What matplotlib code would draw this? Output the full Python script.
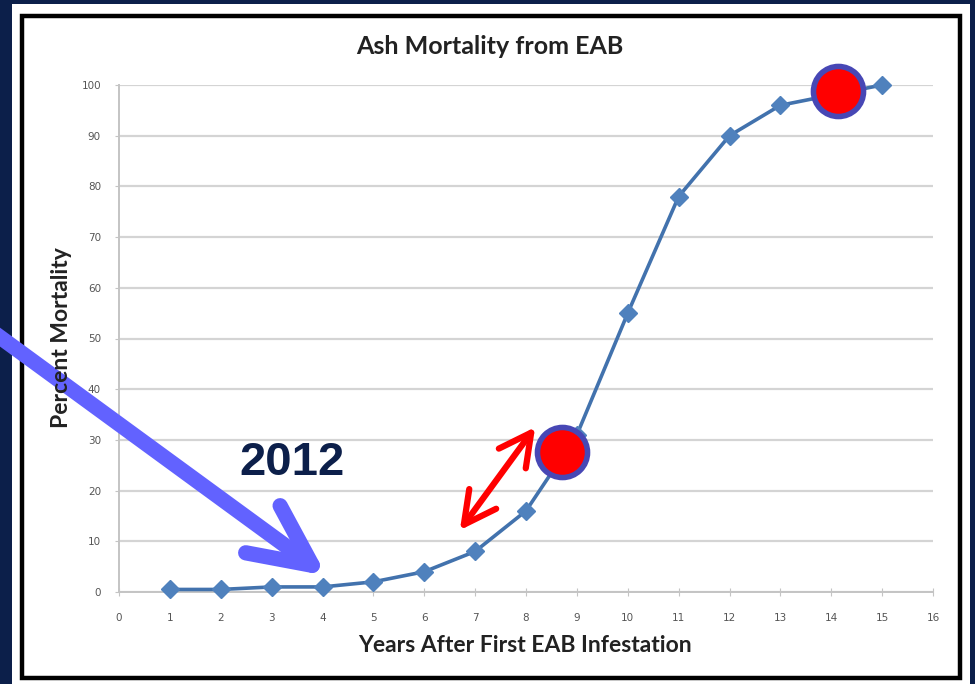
import numpy as np
import matplotlib.pyplot as plt
from matplotlib.patches import Rectangle

# data
years = [1, 2, 3, 4, 5, 6, 7, 8, 9, 10, 11, 12, 13, 14, 15]
mortality = [0.5, 0.5, 1, 1, 2, 4, 8, 16, 31, 55, 78, 90, 96, 98, 100]
x_ticks = list(range(0, 17))
y_ticks = list(range(0, 101, 10))

# highlighted points (red circles)
hl_x = [8.71, 14.13]
hl_y = [27.6, 98.8]

navy = '#0c1f4a'
W, H = 975, 684

fig = plt.figure(figsize=(9.75, 6.84), dpi=100)
fig.patch.set_facecolor(navy)

# white slide panel with black frame
fig.patches.append(Rectangle((12 / W, 0), 958 / W, 680 / H, transform=fig.transFigure,
                             facecolor='white', edgecolor='none', zorder=0))
fig.patches.append(Rectangle((22 / W, 1 - 678 / H), 938 / W, 662 / H, transform=fig.transFigure,
                             facecolor='none', edgecolor='black', lw=3.2, zorder=1))

ax = fig.add_axes([119 / W, 1 - 592 / H, 814 / W, 507 / H])
ax.set_facecolor('none')
ax.set_zorder(2)

ax.plot(years, mortality, color='#4272ad', lw=2.6, marker='D', markersize=9,
        markerfacecolor='#4f81bd', markeredgecolor='#4f81bd', zorder=3, clip_on=False)

ax.set_xlim(0, 16)
ax.set_ylim(0, 100)
ax.set_xticks(x_ticks)
ax.set_yticks(y_ticks)
ax.yaxis.grid(True, color='#d4d4d4', lw=1.6)
ax.set_axisbelow(True)
for s in ['top', 'right']:
    ax.spines[s].set_visible(False)
for s in ['left', 'bottom']:
    ax.spines[s].set_color('#c4c4c4')
    ax.spines[s].set_linewidth(1.4)
ax.tick_params(axis='x', direction='inout', length=6, color='#c4c4c4', labelsize=7.5,
               labelcolor='#555555', pad=12)
ax.tick_params(axis='y', direction='out', length=3, color='#c4c4c4', labelsize=7.5,
               labelcolor='#555555', pad=10)

fig.text(490 / W, 1 - 47 / H, 'Ash Mortality from EAB', fontsize=18, fontweight='bold',
         family='Lato', color='#222222', ha='center', va='center')
fig.text(525 / W, 1 - 645 / H, 'Years After First EAB Infestation', fontsize=16.5,
         fontweight='bold', family='Lato', color='#222222', ha='center', va='center')
fig.text(62 / W, 1 - 338 / H, 'Percent Mortality', fontsize=16.5, fontweight='bold',
         family='Lato', color='#222222', ha='center', va='center', rotation=90)

# red highlight circles
ax.scatter(hl_x, hl_y, s=1300, color='#ff0000', edgecolors='#4747b5', linewidths=4,
           zorder=5, clip_on=False)

# red double arrow
ax.annotate('', xy=(8.18, 32.5), xytext=(6.70, 12.2),
            arrowprops=dict(arrowstyle='<->, head_length=2.3, head_width=1.2',
                            mutation_scale=10, color='#ff0000', lw=4.5,
                            shrinkA=0, shrinkB=0, capstyle='round', joinstyle='round'),
            zorder=6)

# blue arrow pointing to 2012
ax.annotate('', xy=(4.08, 3.2), xycoords='data', xytext=(-0.01, 1 - 330 / H),
            textcoords='figure fraction',
            arrowprops=dict(arrowstyle='->, head_length=2.2, head_width=1.05',
                            mutation_scale=20, color='#6262ff', lw=11,
                            shrinkA=0, shrinkB=0, capstyle='round', joinstyle='round'),
            zorder=6, annotation_clip=False)

ax.text(3.4, 25.5, '2012', fontsize=34, fontweight='bold', family='Liberation Sans',
        color=navy, ha='center', va='center', zorder=7)

fig.savefig('out.png', dpi=100, facecolor=fig.get_facecolor())
